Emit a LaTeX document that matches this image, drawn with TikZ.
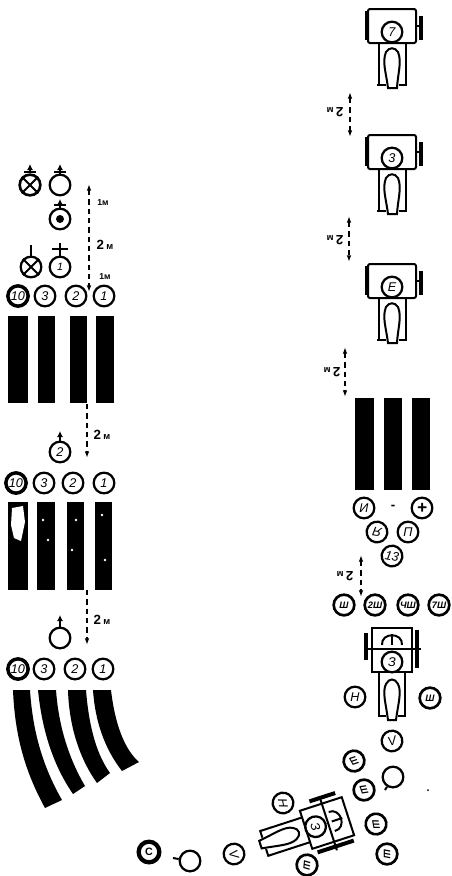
\documentclass[tikz,border=0pt]{standalone}
\usepackage{fontspec}
\setmainfont{Liberation Sans}
\usetikzlibrary{arrows.meta,calc}
\newcommand{\dvam}{2\,{\fontsize{7}{7}\selectfont м}}
\tikzset{
  krug/.style={circle, draw, line width=1.7pt, minimum size=15.5pt, inner sep=0pt, font=\fontsize{9.5}{9}\selectfont\itshape},
  krugm/.style={krug, font=\fontsize{7}{7}\selectfont\bfseries\itshape, line width=2pt},
  tochka/.style={circle, fill=black, minimum size=6pt, inner sep=0pt},
  razmer/.style={{Latex[length=5pt,width=3.5pt]}-{Latex[length=5pt,width=3.5pt]}, line width=1.6pt, dash pattern=on 4pt off 3pt},
  razmerv/.style={-{Latex[length=5pt,width=3.5pt]}, line width=1.6pt, dash pattern=on 4pt off 3pt},
  etiq/.style={font=\fontsize{10}{10}\selectfont\bfseries, inner sep=0pt},
  etiqm/.style={font=\fontsize{6.5}{6.5}\selectfont\bfseries, inner sep=0pt},
  shtir/.style={-{Latex[length=4.5pt,width=4.5pt]}, line width=1.5pt},
  korpus/.style={line width=1.5pt},
  koleso/.style={line width=3pt},
  pics/traktor/.style={code={
    \draw[korpus,rounded corners=1.5pt] (-24,-17) rectangle (24,17);
    \draw[koleso] (-25,-15) -- (-25,14);
    \draw[koleso] (29,-10) -- (29,14);
    \draw[korpus] (24,0) -- (29,0);
    \node[krug,transform shape] (-nomer) at (0,6) {#1};
    \draw[korpus] (-13,17) -- (-13,59);
    \draw[korpus] (14,17) -- (14,59);
    \draw[korpus] (-15,59) -- (-6,59);
    \draw[korpus] (7,59) -- (15,59);
    \draw[korpus] (-4,62) .. controls (-6,46) and (-10,36) .. (-6,26) .. controls (-3,21) and (3,21) .. (6,26) .. controls (10,36) and (6,46) .. (5,62) -- cycle;
  }},
  pics/tyagach/.style={code={
    \draw[korpus] (-20,-22) rectangle (20,22);
    \draw[korpus] (-28,-1) -- (29,-1);
    \draw[koleso] (-26,-17) -- (-26,10);
    \draw[koleso] (25,-20) -- (25,18);
    \draw[korpus] (-10,-5) .. controls (-11,-18) and (11,-18) .. (10,-5);
    \draw[korpus] (0,-16) -- (0,-5);
    \node[krug,transform shape] (-nomer) at (0,12) {#1};
    \draw[korpus] (-13,22) -- (-13,66);
    \draw[korpus] (13,22) -- (13,66);
    \draw[korpus] (-14,66) -- (-6,66);
    \draw[korpus] (6,66) -- (14,66);
    \draw[korpus] (-4,70) .. controls (-6,54) and (-10,42) .. (-6,34) .. controls (-3,28) and (3,28) .. (6,34) .. controls (10,42) and (6,54) .. (4,70) -- cycle;
  }}
}

\begin{document}
\begin{tikzpicture}[x=0.75pt,y=-0.75pt]
\useasboundingbox (0,0) rectangle (451,876);

% left column, top group
\node[krug,line width=2pt] (ukaz1) at (30,185) {};
\draw[korpus] (ukaz1.45) -- (ukaz1.225);
\draw[korpus] (ukaz1.135) -- (ukaz1.315);
\node[krug] (ukaz2) at (60,185) {};
\node[krug] (ukaz3) at (60,219) {};
\node[tochka] (ukaz3c) at (60,219) {};
\node[krug] (ukaz4) at (31,267) {};
\draw[korpus] (ukaz4.45) -- (ukaz4.225);
\draw[korpus] (ukaz4.135) -- (ukaz4.315);
\node[krug] (ukaz5) at (60,267) {\fontsize{8}{8}\selectfont 1};
\node[krug] (ukaz6) at (60,452) {2};
\node[krug] (ukaz7) at (60,638) {};
\coordinate (v1) at (30,164);
\coordinate (v2) at (60,164);
\coordinate (v3) at (60,199);
\coordinate (v4) at (31,245);
\coordinate (v5) at (60,243);
\coordinate (v6) at (60,431);
\coordinate (v7) at (60,615);
\draw[shtir] (ukaz1) -- (v1);
\draw[shtir] (ukaz2) -- (v2);
\draw[shtir] (ukaz3) -- (v3);
\draw[korpus] (ukaz4) -- (v4);
\draw[korpus] (ukaz5) -- (v5);
\draw[shtir] (ukaz6) -- (v6);
\draw[shtir] (ukaz7) -- (v7);
\draw[korpus] (24,172) -- (36,172);
\draw[korpus] (54,172) -- (66,172);
\draw[korpus] (54,205) -- (66,205);
\draw[korpus] (52,249) -- (68,249);

% circles over the lanes
\foreach \n/\x/\y/\t in {a/18/296/10,b/45/296/3,c/76/296/2,d/104/296/1,e/16/483/10,f/44/483/3,g/73/483/2,h/104/483/1,i/18/669/10,j/44/669/3,k/75/669/2,l/103/669/1}
  \node[krug] (r\n) at (\x,\y) {\t};
\foreach \n in {a,e,i}
  \draw[line width=2.6pt] (r\n) circle (7.6pt);

% lanes
\foreach \xa/\xb in {8/28,38/55,70/87,96/114}
  \fill (\xa,316) rectangle (\xb,403);
\foreach \xa/\xb in {8/28,37/55,67/84,95/112}
  \fill (\xa,502) rectangle (\xb,590);
\fill[white] (12,508) -- (23,506) -- (25,522) -- (21,541) -- (14,538) -- (11,525) -- cycle;
\foreach \x/\y in {43/520,48/540,76/520,72/550,102/515,105/560}
  \fill[white] (\x,\y) circle (1pt);

% bent lanes
\fill (13,690) .. controls (15,740) and (27,775) .. (45,808) -- (62,800) .. controls (46,772) and (33,738) .. (30,690) -- cycle;
\fill (38,690) .. controls (42,730) and (53,765) .. (73,794) -- (85,786) .. controls (72,764) and (59,732) .. (56,690) -- cycle;
\fill (68,690) .. controls (69,725) and (79,758) .. (97,783) -- (110,773) .. controls (97,755) and (89,728) .. (86,690) -- cycle;
\fill (93,690) .. controls (95,720) and (104,748) .. (122,771) -- (139,762) .. controls (125,750) and (115,725) .. (111,690) -- cycle;

% distances on the left
\coordinate (m1) at (89,184);
\coordinate (m2) at (89,292);
\coordinate (m3) at (87,404);
\coordinate (m4) at (87,458);
\coordinate (m5) at (87,590);
\coordinate (m6) at (87,645);
\draw[razmer] (m1) -- (m2);
\draw[razmerv] (m3) -- (m4);
\draw[razmerv] (m5) -- (m6);
\node[etiqm] (t1) at (103,203) {1м};
\node[etiq] (t2) at (105,245) {\dvam};
\node[etiqm] (t3) at (105,277) {1м};
\node[etiq] (t4) at (102,435) {\dvam};
\node[etiq] (t5) at (102,620) {\dvam};

% vehicles on the right
\pic (avto1) at (392,26) {traktor={7}};
\pic (avto2) at (392,152) {traktor={3}};
\pic (avto3) at (392,281) {traktor={Е}};
\pic (avto4) at (392,650) {tyagach={З}};
\pic[rotate=-72] (avto5) at (327,823) {tyagach={З}};

\coordinate (m7) at (350,92);
\coordinate (m8) at (350,137);
\coordinate (m9) at (349,216);
\coordinate (m10) at (349,262);
\coordinate (m11) at (345,347);
\coordinate (m12) at (345,397);
\coordinate (m13) at (361,555);
\coordinate (m14) at (361,597);
\draw[razmer] (m7) -- (m8);
\draw[razmer] (m9) -- (m10);
\draw[razmer] (m11) -- (m12);
\draw[razmer] (m13) -- (m14);
\node[etiq,rotate=180] (t6) at (335,112) {\dvam};
\node[etiq,rotate=180] (t7) at (335,240) {\dvam};
\node[etiq,rotate=180] (t8) at (332,372) {\dvam};
\node[etiq,rotate=180] (t9) at (345,576) {\dvam};

\foreach \xa/\xb in {355/374,384/402,412/430}
  \fill (\xa,398) rectangle (\xb,490);

\node[krug] (z1) at (364,508) {И};
\node[inner sep=0pt,font=\bfseries] (z2) at (393,507) {-};
\node[krug] (z3) at (422,508) {\fontsize{13}{13}\selectfont\bfseries +};
\node[krug,rotate=170] (z4) at (377,532) {Я};
\node[krug] (z5) at (408,532) {П};
\node[krug,rotate=-10] (z6) at (392,556) {13};
\node[krugm] (s1) at (344,605) {Ш};
\node[krugm] (s2) at (375,605) {2Ш};
\node[krugm] (s3) at (408,605) {ЧШ};
\node[krugm] (s4) at (439,605) {7Ш};

\node[krug] (s5) at (355,697) {Н};
\node[krugm] (s6) at (430,698) {Ш};
\node[krug,rotate=15] (s7) at (392,741) {V};

% signs along the turn
\node[krugm,rotate=-60] (p1) at (354,761) {Ш};
\node[krugm,rotate=-70] (p2) at (364,790) {Ш};
\node[krugm,rotate=-80] (p3) at (376,824) {Ш};
\node[krugm,rotate=-90] (p4) at (387,854) {Ш};
\node[krugm,rotate=-95] (p5) at (307,865) {Ш};
\node[krug,rotate=-80] (p6) at (283,803) {Н};
\node[krug,rotate=-75] (p7) at (234,854) {V};
\node[krug] (p8) at (393,777) {};
\node[krug] (p9) at (190,861) {};
\node[krug,line width=3.2pt,font=\fontsize{8}{8}\selectfont\bfseries] (p10) at (149,852) {С};
\coordinate (k1) at (385,790);
\coordinate (k2) at (173,858);
\draw[korpus] (p8) -- (k1);
\draw[korpus] (p9) -- (k2);
\node[circle,fill=black,minimum size=1.5pt,inner sep=0pt] (dot) at (428,790) {};
\end{tikzpicture}
\end{document}
